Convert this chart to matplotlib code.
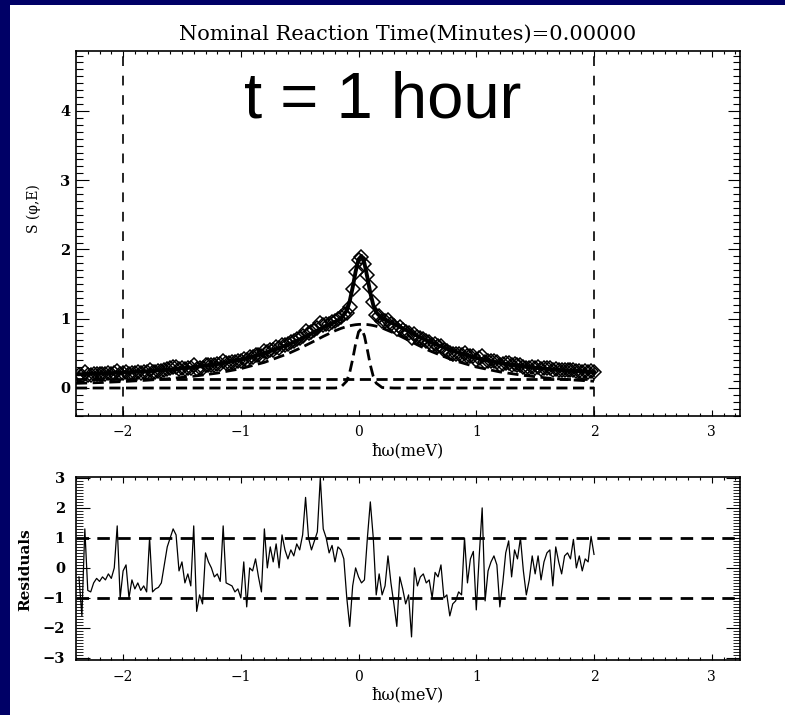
import matplotlib
matplotlib.use("Agg")
import matplotlib.pyplot as plt
from matplotlib.patches import Rectangle
from matplotlib.ticker import MultipleLocator, FixedLocator

plt.rcParams['font.family'] = ['DejaVu Serif']
plt.rcParams['lines.scale_dashes'] = False
plt.rcParams['axes.unicode_minus'] = True

# ---------------- data ----------------
energy = [-2.375, -2.35, -2.325, -2.3, -2.275, -2.25, -2.225, -2.2, -2.175, -2.15, -2.125, -2.1,
          -2.075, -2.05, -2.025, -2.0, -1.975, -1.95, -1.925, -1.9, -1.875, -1.85, -1.825, -1.8,
          -1.775, -1.75, -1.725, -1.7, -1.675, -1.65, -1.625, -1.6, -1.575, -1.55, -1.525, -1.5,
          -1.475, -1.45, -1.425, -1.4, -1.375, -1.35, -1.325, -1.3, -1.275, -1.25, -1.225, -1.2,
          -1.175, -1.15, -1.125, -1.1, -1.075, -1.05, -1.025, -1.0, -0.975, -0.95, -0.925, -0.9,
          -0.875, -0.85, -0.825, -0.8, -0.775, -0.75, -0.725, -0.7, -0.675, -0.65, -0.625, -0.6,
          -0.575, -0.55, -0.525, -0.5, -0.475, -0.45, -0.425, -0.4, -0.375, -0.35, -0.325, -0.3,
          -0.275, -0.25, -0.225, -0.2, -0.175, -0.15, -0.125, -0.1, -0.075, -0.05, -0.025, 0.0,
          0.025, 0.05, 0.075, 0.1, 0.125, 0.15, 0.175, 0.2, 0.225, 0.25, 0.275, 0.3,
          0.325, 0.35, 0.375, 0.4, 0.425, 0.45, 0.475, 0.5, 0.525, 0.55, 0.575, 0.6,
          0.625, 0.65, 0.675, 0.7, 0.725, 0.75, 0.775, 0.8, 0.825, 0.85, 0.875, 0.9,
          0.925, 0.95, 0.975, 1.0, 1.025, 1.05, 1.075, 1.1, 1.125, 1.15, 1.175, 1.2,
          1.225, 1.25, 1.275, 1.3, 1.325, 1.35, 1.375, 1.4, 1.425, 1.45, 1.475, 1.5,
          1.525, 1.55, 1.575, 1.6, 1.625, 1.65, 1.675, 1.7, 1.725, 1.75, 1.775, 1.8,
          1.825, 1.85, 1.875, 1.9, 1.925, 1.95, 1.975, 2.0]

s_data = [0.192, 0.168, 0.227, 0.188, 0.188, 0.195, 0.200, 0.199,
          0.204, 0.204, 0.210, 0.209, 0.217, 0.247, 0.201, 0.221,
          0.227, 0.208, 0.222, 0.219, 0.225, 0.222, 0.228, 0.226,
          0.265, 0.232, 0.237, 0.241, 0.247, 0.262, 0.277, 0.286,
          0.296, 0.296, 0.277, 0.287, 0.277, 0.287, 0.284, 0.328,
          0.277, 0.293, 0.293, 0.333, 0.332, 0.334, 0.333, 0.341,
          0.342, 0.396, 0.357, 0.363, 0.370, 0.373, 0.384, 0.384,
          0.425, 0.400, 0.443, 0.452, 0.474, 0.470, 0.469, 0.533,
          0.516, 0.552, 0.553, 0.587, 0.578, 0.627, 0.627, 0.634,
          0.662, 0.676, 0.707, 0.720, 0.756, 0.816, 0.796, 0.805,
          0.836, 0.867, 0.943, 0.914, 0.925, 0.930, 0.958, 0.962,
          1.000, 1.020, 1.069, 1.079, 1.176, 1.428, 1.680, 1.846,
          1.887, 1.785, 1.635, 1.460, 1.239, 1.056, 1.040, 0.967,
          0.966, 0.976, 0.930, 0.889, 0.846, 0.874, 0.840, 0.804,
          0.791, 0.728, 0.775, 0.735, 0.723, 0.706, 0.676, 0.658,
          0.623, 0.632, 0.610, 0.605, 0.554, 0.540, 0.502, 0.497,
          0.493, 0.488, 0.473, 0.508, 0.458, 0.466, 0.460, 0.398,
          0.434, 0.465, 0.378, 0.395, 0.394, 0.390, 0.373, 0.330,
          0.346, 0.360, 0.361, 0.331, 0.343, 0.331, 0.338, 0.310,
          0.289, 0.295, 0.306, 0.290, 0.297, 0.276, 0.284, 0.285,
          0.284, 0.256, 0.279, 0.266, 0.254, 0.263, 0.261, 0.254,
          0.265, 0.243, 0.249, 0.236, 0.242, 0.237, 0.252, 0.237]

residuals = [-0.3, -1.6, 1.3, -0.75, -0.8, -0.5, -0.35, -0.45,
             -0.3, -0.4, -0.2, -0.35, 0.0, 1.4, -1.0, -0.1,
             0.1, -1.0, -0.4, -0.7, -0.5, -0.75, -0.6, -0.8,
             1.0, -0.8, -0.7, -0.65, -0.5, 0.1, 0.7, 1.0,
             1.3, 1.1, -0.1, 0.2, -0.5, -0.2, -0.6, 1.4,
             -1.45, -0.9, -1.2, 0.5, 0.2, 0.0, -0.3, -0.2,
             -0.45, 1.4, -0.5, -0.55, -0.6, -0.8, -0.7, -1.0,
             0.2, -1.3, 0.0, -0.1, 0.3, -0.3, -0.8, 1.3,
             0.0, 0.7, 0.2, 0.8, 0.0, 1.1, 0.6, 0.3,
             0.6, 0.4, 0.8, 0.6, 1.1, 2.35, 1.0, 0.6,
             0.9, 1.2, 3.0, 1.3, 1.0, 0.5, 0.75, 0.2,
             0.7, 0.6, 0.3, -1.0, -1.95, -0.6, 0.0, -0.3,
             -0.5, -0.4, 1.0, 2.2, 1.0, -0.9, -0.2, -0.9,
             -0.6, 0.4, -0.5, -1.2, -1.95, -0.3, -0.7, -1.2,
             -0.9, -2.3, 0.0, -0.6, -0.3, -0.2, -0.5, -0.4,
             -1.0, -0.15, -0.3, 0.1, -1.0, -0.9, -1.6, -1.2,
             -1.1, -0.8, -0.9, 1.0, -0.5, 0.3, 0.55, -1.4,
             0.4, 2.0, -1.1, -0.1, 0.2, 0.4, 0.1, -1.3,
             -0.5, 0.5, 0.9, -0.3, 0.6, 0.3, 1.0, -0.1,
             -0.9, -0.4, 0.4, -0.2, 0.4, -0.4, 0.2, 0.5,
             0.6, -0.6, 0.7, 0.2, -0.2, 0.4, 0.5, 0.3,
             0.95, 0.0, 0.4, -0.1, 0.3, 0.2, 1.05, 0.45]

fit_energy = [-2.4, -2.2, -2.0, -1.8, -1.6, -1.4, -1.2, -1.0, -0.8, -0.6, -0.5, -0.4, -0.3,
              -0.2, -0.15, -0.1, -0.075, -0.05, -0.025, 0.0, 0.025, 0.05, 0.075, 0.1, 0.125,
              0.15, 0.2, 0.3, 0.4, 0.5, 0.6, 0.8, 1.0, 1.2, 1.4, 1.6, 1.8, 2.0]
fit_total = [0.197, 0.208, 0.223, 0.242, 0.266, 0.300, 0.345, 0.409, 0.500, 0.625, 0.702, 0.787,
             0.875, 0.956, 1.002, 1.119, 1.254, 1.452, 1.680, 1.858, 1.907, 1.801, 1.595, 1.372,
             1.199, 1.092, 1.003, 0.925, 0.840, 0.753, 0.670, 0.533, 0.433, 0.362, 0.312, 0.275,
             0.248, 0.228]
fit_broad = [0.067, 0.078, 0.093, 0.112, 0.136, 0.170, 0.215, 0.279, 0.370, 0.495, 0.572, 0.657,
             0.745, 0.826, 0.860, 0.888, 0.899, 0.907, 0.914, 0.918, 0.920, 0.919, 0.916, 0.910,
             0.902, 0.892, 0.866, 0.795, 0.710, 0.623, 0.540, 0.403, 0.303, 0.232, 0.182, 0.145,
             0.118, 0.098]
fit_narrow = [0, 0, 0, 0, 0, 0, 0, 0, 0, 0, 0, 0, 0, 0,
              0.012, 0.101, 0.225, 0.415, 0.636, 0.810, 0.857, 0.752, 0.549, 0.332, 0.167,
              0.070, 0.007, 0, 0, 0, 0, 0, 0, 0, 0, 0, 0, 0]
bg_energy = [-2.4, 2.0]
bg_level = [0.13, 0.13]
fit_range = [-2.0, 2.0]
resid_band = [-1.0, 1.0]

title_text = "Nominal Reaction Time(Minutes)=0.00000"
time_text = "t = 1 hour"
xlab = "\u0127\u03c9(meV)"
ylab_top = "S (\u03c6,E)"
ylab_bot = "Residuals"

# ---------------- figure ----------------
W, H = 785, 715
fig = plt.figure(figsize=(W / 100, H / 100), dpi=100, facecolor='#000066')
fig.patches.append(Rectangle((10 / W, 0), (W - 10) / W, (H - 5) / H,
                             transform=fig.transFigure, facecolor='white',
                             edgecolor='none', zorder=-10))


def fx(px):
    return px / W


def fy(py):
    return 1 - py / H


ax = fig.add_axes([fx(76), fy(415.7), fx(740) - fx(76), fy(50.7) - fy(415.7)], zorder=2)
ax2 = fig.add_axes([fx(76), fy(660), fx(740) - fx(76), fy(476.7) - fy(660)], zorder=2)

for a in (ax, ax2):
    a.set_xlim(-2.4, 3.24)
    a.patch.set_alpha(0)
    for sp in a.spines.values():
        sp.set_linewidth(1.2)
    a.xaxis.set_major_locator(FixedLocator([-2, -1, 0, 1, 2, 3]))
    a.xaxis.set_minor_locator(MultipleLocator(0.1))
    a.tick_params(which='both', direction='in', top=True, right=True, width=0.8)

# top panel
ax.set_ylim(-0.4, 4.87)
ax.yaxis.set_major_locator(FixedLocator([0, 1, 2, 3, 4]))
ax.yaxis.set_minor_locator(MultipleLocator(0.1))
ax.tick_params(axis='x', which='major', length=4.5, pad=7, labelsize=10)
ax.tick_params(axis='x', which='minor', length=2.5)
ax.tick_params(axis='y', which='major', length=9, pad=4, labelsize=10.5)
ax.tick_params(axis='y', which='minor', length=5)
for lab in ax.get_yticklabels():
    lab.set_fontweight('bold')

for xv in fit_range:
    ax.axvline(xv, color='black', lw=1.2, dashes=(7, 7))
ax.plot(bg_energy, bg_level, color='black', lw=2.0, dashes=(8, 4))
ax.plot(fit_energy, fit_narrow, color='black', lw=2.0, dashes=(8, 4))
ax.plot(fit_energy, fit_broad, color='black', lw=2.0, dashes=(8, 4))
ax.plot(energy, s_data, linestyle='none', marker='D', ms=7.5, mfc='none',
        mec='black', mew=1.1)
ax.plot(fit_energy, fit_total, color='black', lw=2.8)

ax.set_xlabel(xlab, fontsize=11.5, labelpad=2)

# bottom panel
ax2.set_ylim(-3.07, 3.04)
ax2.yaxis.set_major_locator(FixedLocator([-3, -2, -1, 0, 1, 2, 3]))
ax2.yaxis.set_minor_locator(MultipleLocator(0.1))
ax2.tick_params(axis='x', which='major', length=4, pad=7, labelsize=10)
ax2.tick_params(axis='x', which='minor', length=2.2)
ax2.tick_params(axis='y', which='major', length=10, pad=8, labelsize=10.5)
ax2.tick_params(axis='y', which='minor', length=5, width=0.6)
for lab in ax2.get_yticklabels():
    lab.set_fontweight('bold')

for yv in resid_band:
    ax2.axhline(yv, color='black', lw=2.0, dashes=(9, 6))
ax2.plot(energy, residuals, color='black', lw=0.9)
ax2.set_xlabel(xlab, fontsize=11.5, labelpad=2)

# texts
fig.text(fx(408), fy(34), title_text, ha='center', va='center', fontsize=15)
fig.text(fx(383), fy(101), time_text, ha='center', va='center', fontsize=47,
         family=['Liberation Sans', 'DejaVu Sans'])
fig.text(fx(34), fy(209), ylab_top, ha='center', va='center', rotation=90, fontsize=10)
fig.text(fx(25), fy(570), ylab_bot, ha='center', va='center', rotation=90,
         fontsize=11, fontweight='bold')

fig.savefig('out.png', dpi=100, facecolor=fig.get_facecolor())
